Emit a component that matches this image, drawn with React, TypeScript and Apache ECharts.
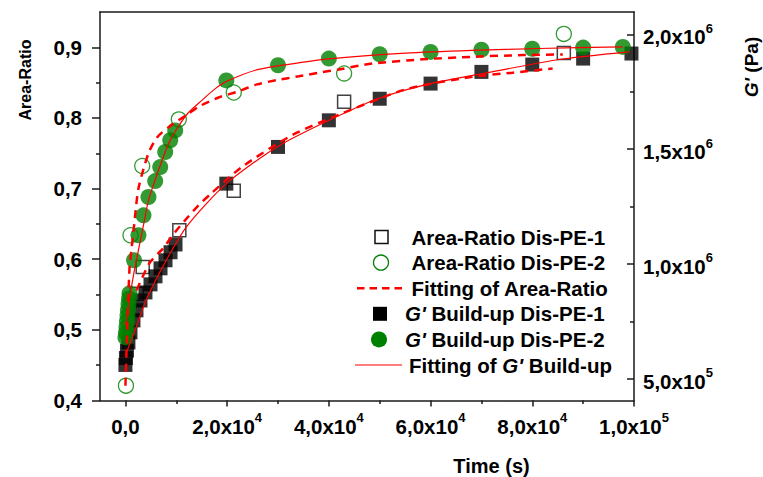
import React, { useEffect, useRef } from "react";
import * as echarts from "echarts";

const FONT = '"Liberation Sans", Arial, Helvetica, sans-serif';

// ---- Area-Ratio (left axis) ----
const arPE1Time = [2200, 3400, 10600, 21300, 43000, 86200];
const arPE1Value = [0.551, 0.589, 0.641, 0.697, 0.823, 0.892];

const arPE2Time = [100, 1000, 3300, 10500, 21300, 43000, 86200];
const arPE2Value = [0.421, 0.634, 0.732, 0.798, 0.836, 0.863, 0.919];

// Fitting of Area-Ratio (dashed)
const fitArPE1Time = [2200, 3210, 4870, 7350, 9790, 12210, 14380, 16690, 22910, 32760, 42610, 55100, 68220, 76100, 84000];
const fitArPE1Value = [0.556, 0.5725, 0.596, 0.615, 0.6386, 0.659, 0.6764, 0.692, 0.7307, 0.7756, 0.8064, 0.8404, 0.8583, 0.864, 0.87];

const fitArPE2Time = [0, 400, 800, 1240, 1710, 2560, 4530, 6170, 8470, 12410, 14380, 18320, 21930, 25870, 29810, 34080, 38020, 41960, 48520, 58370, 68220, 78070, 86000];
const fitArPE2Value = [0.421, 0.51, 0.587, 0.617, 0.648, 0.7, 0.75, 0.772, 0.787, 0.806, 0.816, 0.829, 0.837, 0.8475, 0.8536, 0.859, 0.864, 0.8687, 0.877, 0.883, 0.8866, 0.889, 0.89];

// ---- G' build-up (right axis, Pa) ----
const gPE1Time = [0, 100, 300, 590, 990, 1580, 2170, 2960, 3940, 4930, 5910, 6900, 7880, 8870, 9850, 19840, 30000, 40000, 50000, 60000, 70000, 80000, 90000, 99500];
const gPE1Value = [560000, 590000, 622000, 658000, 702000, 754000, 798000, 841000, 876000, 911000, 946000, 981000, 1016000, 1051000, 1085000, 1350000, 1510000, 1626000, 1720000, 1786000, 1837000, 1869000, 1895000, 1917000];

const gPE2Time = [0, 100, 200, 300, 400, 500, 600, 700, 800, 1700, 2560, 3550, 4530, 5850, 6840, 7820, 8810, 9790, 19840, 30000, 40000, 50000, 60000, 70000, 80000, 90000, 97800];
const gPE2Value = [680000, 700000, 725000, 750000, 775000, 800000, 825000, 850000, 872000, 1016000, 1125000, 1212000, 1292000, 1361000, 1422000, 1488000, 1539000, 1582000, 1800000, 1866000, 1895000, 1914000, 1924000, 1934000, 1938000, 1943000, 1946000];

// Fitting of G' build-up (solid)
const fitGPE1Time = [0, 2230, 4200, 7490, 11960, 19840, 29810, 40050, 49900, 59740, 71510, 85300, 99100];
const fitGPE1Value = [602000, 732000, 849000, 994000, 1161000, 1350000, 1510000, 1626000, 1722000, 1785000, 1835000, 1891000, 1924000];

const fitGPE2Time = [0, 1580, 3550, 4530, 6500, 8470, 10440, 12410, 15030, 17670, 19840, 25550, 32110, 40000, 55100, 68220, 81360, 97770];
const fitGPE2Value = [732000, 950000, 1169000, 1277000, 1408000, 1524000, 1600000, 1660000, 1713000, 1764000, 1795000, 1844000, 1870000, 1894000, 1919000, 1931000, 1939000, 1946000];

// ---- Axis ticks and labels ----
const xMajorTicks = [0, 20000, 40000, 60000, 80000, 100000];
const xMinorTicks = [10000, 30000, 50000, 70000, 90000];
const xTickLabels = ["0,0", "2,0x10^4", "4,0x10^4", "6,0x10^4", "8,0x10^4", "1,0x10^5"];

const leftMajorTicks = [0.4, 0.5, 0.6, 0.7, 0.8, 0.9];
const leftMinorTicks = [0.45, 0.55, 0.65, 0.75, 0.85];
const leftTickLabels = ["0,4", "0,5", "0,6", "0,7", "0,8", "0,9"];

const rightMajorTicks = [500000, 1000000, 1500000, 2000000];
const rightMinorTicks = [750000, 1250000, 1750000];
const rightTickLabels = ["5,0x10^5", "1,0x10^6", "1,5x10^6", "2,0x10^6"];

const legendLabels = [
  "{n|Area-Ratio Dis-PE-1}",
  "{n|Area-Ratio Dis-PE-2}",
  "{n|Fitting of Area-Ratio}",
  "{i|G'}{n| Build-up Dis-PE-1}",
  "{i|G'}{n| Build-up Dis-PE-2}",
  "{n|Fitting of }{i|G'}{n| Build-up}",
];

const zip = (a: number[], b: number[]) => a.map((v, i) => [v, b[i]]);

const toRich = (s: string) => {
  const parts = s.split("^");
  return parts.length > 1 ? `{b|${parts[0]}}{s|${parts[1]}}` : `{b|${parts[0]}}`;
};

const makeFormatter = (vals: number[], labels: string[]) => (v: number) => {
  const i = vals.findIndex((x) => Math.abs(x - v) < 1e-6 * Math.max(1, Math.abs(x)));
  return i >= 0 ? toRich(labels[i]) : "";
};

const AXIS_COLOR = "#1a1a1a";
const TICK_FONT = 20.5;
const richLabel = {
  b: { fontSize: TICK_FONT, fontWeight: "bold", fontFamily: FONT, color: "#000", lineHeight: 30 },
  s: { fontSize: 13, fontWeight: "bold", fontFamily: FONT, color: "#000", lineHeight: 12, verticalAlign: "top" },
};

const X_MIN = -5000;
const X_MAX = 100000;
const L_MIN = 0.4;
const L_MAX = 0.95;
const R_MIN = 405000;
const R_MAX = 2098000;

export default function App() {
  const ref = useRef<HTMLDivElement>(null);

  useEffect(() => {
    if (!ref.current) return;
    const chart = echarts.init(ref.current, undefined, { renderer: "svg" });

    const baseAxisLine = { show: true, onZero: false, lineStyle: { color: AXIS_COLOR, width: 1.5 } };

    const legendRowY = (i: number) => 237 + i * 25.6;
    const LF = 20.5;
    const legendRich = {
      i: { fontSize: LF, fontWeight: "bold", fontStyle: "italic", fontFamily: FONT, color: "#000" },
      n: { fontSize: LF, fontWeight: "bold", fontFamily: FONT, color: "#000" },
    };
    const legendTextX = [411.5, 411.5, 411.5, 405, 405, 409];

    const fitLine = (data: number[][], yAxisIndex: number, dashed: boolean) => ({
      type: "line",
      xAxisIndex: 0,
      yAxisIndex,
      showSymbol: false,
      symbol: "none",
      smooth: 0.25,
      z: dashed ? 6 : 7,
      lineStyle: dashed ? { color: "#ff0000", width: 2.5, type: [8, 6] } : { color: "#ff0000", width: 1.2 },
      data,
    });

    const option: any = {
      animation: false,
      backgroundColor: "#fff",
      grid: [
        { left: 100, right: 129, top: 12, bottom: 76.5, containLabel: false },
        // helper grid only used to place the left axis title
        { left: 100, width: 10, top: 40, height: 80, containLabel: false },
      ],
      xAxis: [
        {
          type: "value",
          min: X_MIN,
          max: X_MAX,
          position: "bottom",
          axisLine: baseAxisLine,
          axisTick: { show: true, customValues: xMajorTicks, length: 6, lineStyle: { color: AXIS_COLOR, width: 1.5 } },
          axisLabel: {
            show: true,
            customValues: xMajorTicks,
            margin: 25.5,
            verticalAlign: "middle",
            formatter: makeFormatter(xMajorTicks, xTickLabels),
            rich: richLabel,
          },
          splitLine: { show: false },
        },
        {
          type: "value",
          min: X_MIN,
          max: X_MAX,
          position: "bottom",
          axisLine: { show: false, onZero: false },
          axisTick: { show: true, customValues: xMinorTicks, length: 3.5, lineStyle: { color: AXIS_COLOR, width: 1.5 } },
          axisLabel: { show: false },
          splitLine: { show: false },
        },
        {
          type: "value",
          min: X_MIN,
          max: X_MAX,
          position: "top",
          axisLine: baseAxisLine,
          axisTick: { show: false },
          axisLabel: { show: false },
          splitLine: { show: false },
        },
        {
          type: "value",
          gridIndex: 1,
          min: 0,
          max: 1,
          show: false,
        },
      ],
      yAxis: [
        {
          type: "value",
          min: L_MIN,
          max: L_MAX,
          position: "left",
          axisLine: baseAxisLine,
          axisTick: { show: true, customValues: leftMajorTicks, length: 8, lineStyle: { color: AXIS_COLOR, width: 1.5 } },
          axisLabel: {
            show: true,
            customValues: leftMajorTicks,
            margin: 18,
            fontSize: TICK_FONT,
            fontWeight: "bold",
            fontFamily: FONT,
            color: "#000",
            formatter: (v: number) => {
              const i = leftMajorTicks.findIndex((x) => Math.abs(x - v) < 1e-6);
              return i >= 0 ? leftTickLabels[i] : "";
            },
          },
          splitLine: { show: false },
        },
        {
          type: "value",
          min: L_MIN,
          max: L_MAX,
          position: "left",
          axisLine: { show: false, onZero: false },
          axisTick: { show: true, customValues: leftMinorTicks, length: 4, lineStyle: { color: AXIS_COLOR, width: 1.5 } },
          axisLabel: { show: false },
          splitLine: { show: false },
        },
        {
          type: "value",
          min: R_MIN,
          max: R_MAX,
          position: "right",
          axisLine: baseAxisLine,
          axisTick: { show: true, inside: true, customValues: rightMajorTicks, length: 7, lineStyle: { color: AXIS_COLOR, width: 1.5 } },
          axisLabel: {
            show: true,
            customValues: rightMajorTicks,
            margin: 9,
            padding: [5, 0, 0, 0],
            formatter: makeFormatter(rightMajorTicks, rightTickLabels),
            rich: richLabel,
          },
          splitLine: { show: false },
        },
        {
          type: "value",
          min: R_MIN,
          max: R_MAX,
          position: "right",
          axisLine: { show: false, onZero: false },
          axisTick: { show: true, inside: true, customValues: rightMinorTicks, length: 4, lineStyle: { color: AXIS_COLOR, width: 1.5 } },
          axisLabel: { show: false },
          splitLine: { show: false },
        },
        {
          type: "value",
          gridIndex: 1,
          min: 0,
          max: 1,
          position: "left",
          name: "Area-Ratio",
          nameLocation: "middle",
          nameRotate: 90,
          nameGap: 67,
          nameTextStyle: { fontSize: 16, fontWeight: "bold", fontFamily: FONT, color: "#000" },
          axisLine: { show: false, onZero: false },
          axisTick: { show: false },
          axisLabel: { show: false },
          splitLine: { show: false },
        },
      ],
      series: [
        {
          name: "Area-Ratio Dis-PE-1",
          type: "scatter",
          xAxisIndex: 0,
          yAxisIndex: 0,
          symbol: "rect",
          symbolSize: 13,
          z: 2,
          itemStyle: { color: "rgba(0,0,0,0)", borderColor: "#111", borderWidth: 1.5 },
          data: zip(arPE1Time, arPE1Value),
        },
        {
          name: "G' Build-up Dis-PE-1",
          type: "scatter",
          xAxisIndex: 0,
          yAxisIndex: 2,
          symbol: "rect",
          symbolSize: 14,
          z: 3,
          itemStyle: { color: "#000" },
          data: zip(gPE1Time, gPE1Value),
        },
        {
          name: "G' Build-up Dis-PE-2",
          type: "scatter",
          xAxisIndex: 0,
          yAxisIndex: 2,
          symbol: "circle",
          symbolSize: 16,
          z: 4,
          itemStyle: { color: "#008000" },
          data: zip(gPE2Time, gPE2Value),
        },
        {
          name: "Area-Ratio Dis-PE-2",
          type: "scatter",
          xAxisIndex: 0,
          yAxisIndex: 0,
          symbol: "circle",
          symbolSize: 15,
          z: 5,
          itemStyle: { color: "rgba(0,0,0,0)", borderColor: "#008000", borderWidth: 1.3 },
          data: zip(arPE2Time, arPE2Value),
        },
        { name: "Fitting of Area-Ratio", ...fitLine(zip(fitArPE1Time, fitArPE1Value), 0, true) },
        { name: "Fitting of Area-Ratio (2)", ...fitLine(zip(fitArPE2Time, fitArPE2Value), 0, true) },
        { name: "Fitting of G' Build-up", ...fitLine(zip(fitGPE1Time, fitGPE1Value), 2, false) },
        { name: "Fitting of G' Build-up (2)", ...fitLine(zip(fitGPE2Time, fitGPE2Value), 2, false) },
      ],
      graphic: [
        {
          type: "text",
          id: "xtitle",
          x: 491.5,
          y: 466,
          style: {
            text: "{n|Time (s)}",
            align: "center",
            verticalAlign: "middle",
            rich: { n: { fontSize: 20, fontWeight: "bold", fontFamily: FONT, color: "#000" } },
          },
        },
        {
          type: "text",
          id: "rtitle",
          x: 751,
          y: 67,
          rotation: Math.PI / 2,
          style: {
            text: "{i|G'}{n| (Pa)}",
            align: "center",
            verticalAlign: "middle",
            rich: {
              i: { fontSize: 19, fontWeight: "bold", fontStyle: "italic", fontFamily: FONT, color: "#000" },
              n: { fontSize: 19, fontWeight: "bold", fontFamily: FONT, color: "#000" },
            },
          },
        },
        // legend symbols
        {
          type: "rect",
          shape: { x: 375, y: legendRowY(0) - 6.5, width: 13, height: 13 },
          style: { fill: "none", stroke: "#111", lineWidth: 1.5 },
        },
        {
          type: "circle",
          shape: { cx: 381, cy: legendRowY(1), r: 7.5 },
          style: { fill: "none", stroke: "#008000", lineWidth: 1.3 },
        },
        {
          type: "line",
          shape: { x1: 357, y1: legendRowY(2), x2: 404, y2: legendRowY(2) },
          style: { stroke: "#ff0000", lineWidth: 2.5, lineDash: [7.5, 5] },
        },
        {
          type: "rect",
          shape: { x: 373, y: legendRowY(3) - 7, width: 14, height: 14 },
          style: { fill: "#000" },
        },
        {
          type: "circle",
          shape: { cx: 379, cy: legendRowY(4), r: 8 },
          style: { fill: "#008000" },
        },
        {
          type: "line",
          shape: { x1: 355, y1: legendRowY(5), x2: 402, y2: legendRowY(5) },
          style: { stroke: "#ff0000", lineWidth: 1.2 },
        },
        // legend texts
        ...legendLabels.map((t, i) => ({
          type: "text",
          x: legendTextX[i],
          y: legendRowY(i),
          style: { text: t, align: "left", verticalAlign: "middle", rich: legendRich },
        })),
      ],
    };

    chart.setOption(option);
    return () => chart.dispose();
  }, []);

  return <div ref={ref} style={{ width: 763, height: 477, position: "absolute", left: 0, top: 0 }} />;
}
